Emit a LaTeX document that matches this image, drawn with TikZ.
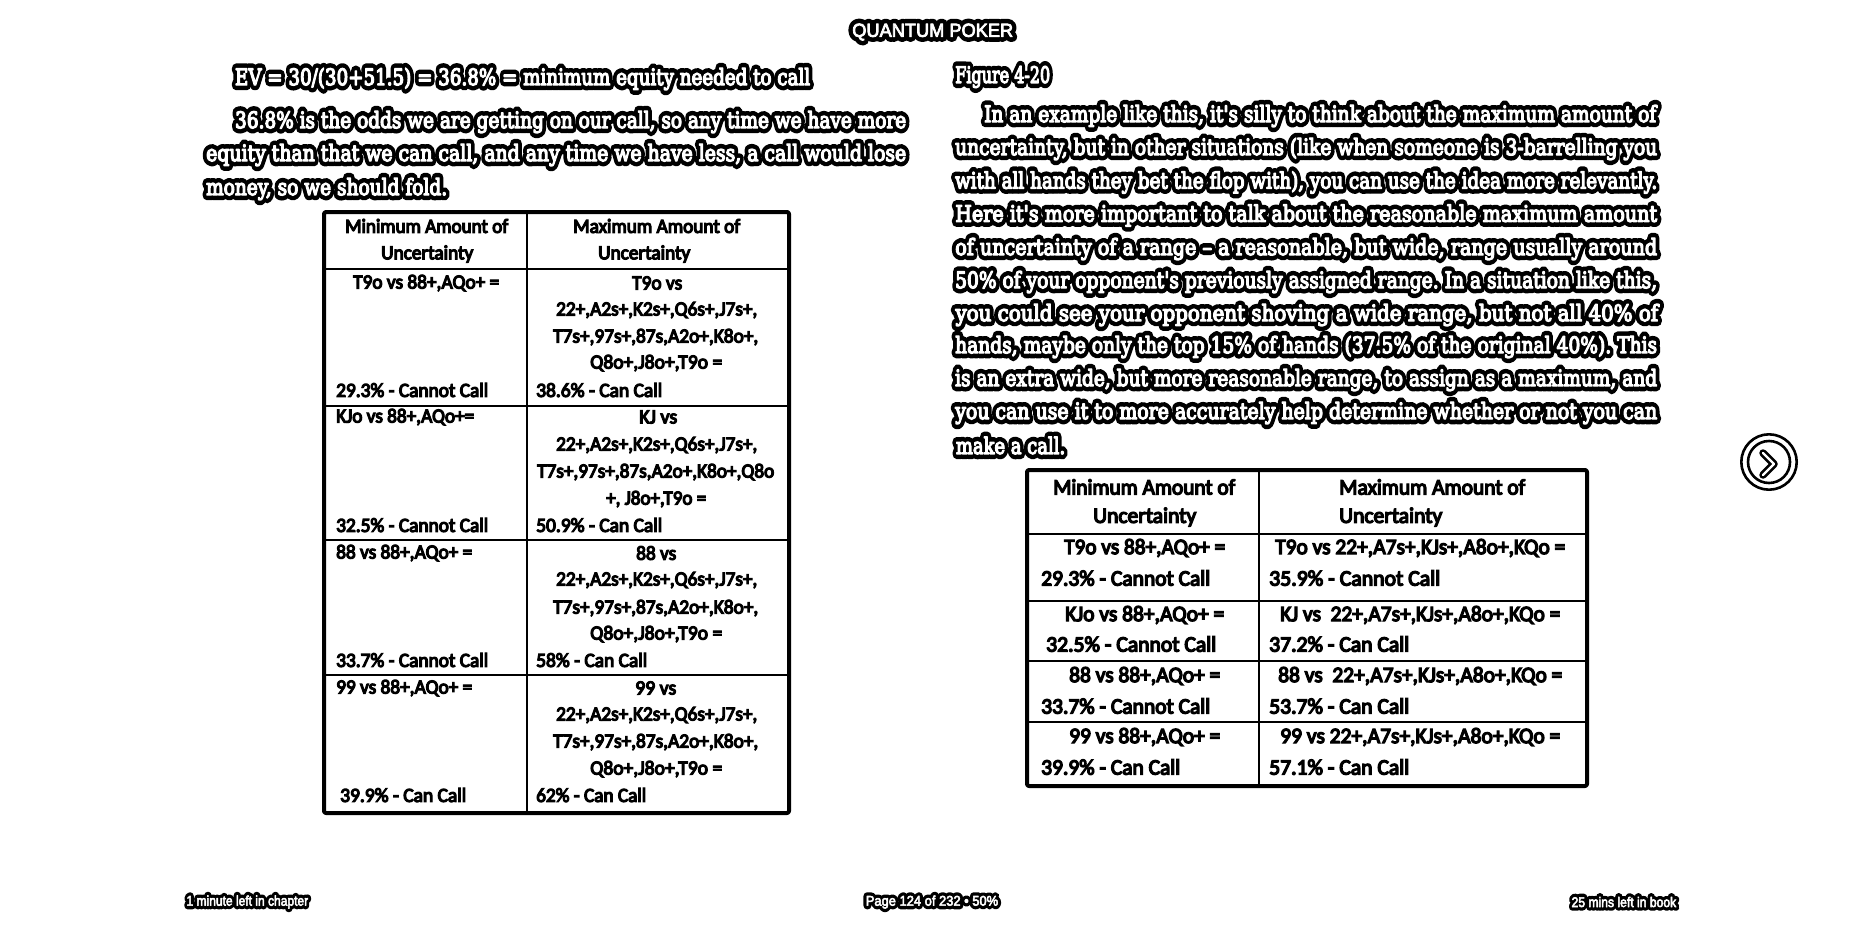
\documentclass[tikz,border=0pt]{standalone}
\usepackage{fontspec}
\usepackage{graphicx}
\setmainfont{Carlito}
\frenchspacing
\newfontfamily\bodyW[FakeBold=6]{DejaVu Serif}
\newfontfamily\bodyH[FakeBold=46]{DejaVu Serif}
\newfontfamily\sansW[FakeBold=4]{Liberation Sans}
\newfontfamily\sansH[FakeBold=52]{Liberation Sans}
\newfontfamily\cellF[FakeBold=6]{Carlito}
\newsavebox\fitbox
% #1 width, #2 font+text: scale the box horizontally to the given width
\newcommand\fitw[2]{\sbox\fitbox{#2}\pgfmathsetmacro\sxf{#1/\wd\fitbox*1pt}\scalebox{\sxf}[1]{\usebox\fitbox}}
\newcommand\halotxt[5]{% width, size, halo font, white font, text
  \fitw{#1}{\special{pdf:code 1 j 1 J}\fontsize{#2}{#2}\selectfont\makebox[0pt][l]{\color{black}#3 #5}\color{white}#4 #5}}
\tikzset{
  cellt/.style={inner sep=0pt,anchor=#1,font=\cellF},
  halol/.style={inner sep=0pt,anchor=west},
  outer/.style={line width=4pt,line join=round,draw=black,rounded corners=2pt},
  rowrule/.style={line width=2.2pt,draw=black},
}
% body text line: name, left x, baseline centre y, width, text
\newcommand\BL[5]{\node[halol] (#1) at (#2,#3+2) {\halotxt{#4}{22.5}{\bodyH}{\bodyW}{#5}};}
\newcommand\SL[6]{\node[halol] (#1) at (#2,#3) {\halotxt{#4}{#6}{\sansH}{\sansW}{#5}};}
% cell: name, anchor, x, y, width, text, size
\newcommand\CL[6]{\node[cellt=west] (#1) at (#2,#3) {\fitw{#4}{\fontsize{#6}{#6}\selectfont #5}};}
\begin{document}
\begin{tikzpicture}[x=1pt,y=-1pt]
\useasboundingbox (0,0) rectangle (1862,924);
\fill[white] (0,0) rectangle (1862,924);
% headers
\SL{title}{847}{32}{166}{QUANTUM POKER}{19}
\BL{ev}{229}{77}{581}{EV = 30/(30+51.5) = 36.8\% = minimum equity needed to call}
\BL{la}{229}{120}{677}{36.8\% is the odds we are getting on our call, so any time we have more}
\BL{lb}{200}{153}{706}{equity than that we can call, and any time we have less, a call would lose}
\BL{lc}{200}{187}{247}{money, so we should fold.}
\BL{fig}{950}{75}{100}{Figure 4-20}
\BL{ra}{978}{114}{678}{In an example like this, it's silly to think about the maximum amount of}
\BL{rb}{949}{147}{708}{uncertainty, but in other situations (like when someone is 3-barrelling you}
\BL{rc}{949}{180.5}{708}{with all hands they bet the flop with), you can use the idea more relevantly.}
\BL{rd}{949}{213.5}{708}{Here it's more important to talk about the reasonable maximum amount}
\BL{re}{949}{247}{708}{of uncertainty of a range – a reasonable, but wide, range usually around}
\BL{rf}{949}{280}{708}{50\% of your opponent's previously assigned range. In a situation like this,}
\BL{rg}{949}{313}{709}{you could see your opponent shoving a wide range, but not all 40\% of}
\BL{rh}{949}{345}{708}{hands, maybe only the top 15\% of hands (37.5\% of the original 40\%). This}
\BL{ri}{949}{378}{708}{is an extra wide, but more reasonable range, to assign as a maximum, and}
\BL{rj}{949}{411}{708}{you can use it to more accurately help determine whether or not you can}
\BL{rk}{950}{443.5}{115}{make a call.}
% left table
\draw[outer] (324,212) rectangle (789,813);
\draw[rowrule] (527,212) -- (527,813);
\foreach \yy in {269,406,540,675}{\draw[rowrule] (324,\yy) -- (789,\yy);}
\CL{a1}{345}{226}{163}{Minimum Amount of}{20}
\CL{a2}{381}{254}{92}{Uncertainty}{20}
\CL{a3}{573}{226}{167}{Maximum Amount of}{20}
\CL{a4}{598}{254}{92}{Uncertainty}{20}
\CL{b1}{353}{283}{146}{T9o vs 88+,AQo+ =}{20}
\CL{b2}{336}{390}{152}{29.3\% - Cannot Call}{20}
\CL{b3}{632}{283}{50}{T9o vs}{20}
\CL{b4}{556}{310}{201}{22+,A2s+,K2s+,Q6s+,J7s+,}{20}
\CL{b5}{553}{337}{205}{T7s+,97s+,87s,A2o+,K8o+,}{20}
\CL{b6}{590}{363}{132}{Q8o+,J8o+,T9o =}{20}
\CL{b7}{536}{390}{126}{38.6\% - Can Call}{20}
\CL{c1}{336}{417}{138}{KJo vs 88+,AQo+=}{20}
\CL{c2}{639}{417}{38}{KJ vs}{20}
\CL{c3}{556}{445}{201}{22+,A2s+,K2s+,Q6s+,J7s+,}{20}
\CL{c4}{537}{472}{237}{T7s+,97s+,87s,A2o+,K8o+,Q8o}{20}
\CL{c5}{606}{499}{100}{+, J8o+,T9o =}{20}
\CL{c6}{336}{525}{152}{32.5\% - Cannot Call}{20}
\CL{c7}{536}{525}{126}{50.9\% - Can Call}{20}
\CL{d1}{336}{553}{136}{88 vs 88+,AQo+ =}{20}
\CL{d2}{636}{553}{40}{88 vs}{20}
\CL{d3}{556}{580}{201}{22+,A2s+,K2s+,Q6s+,J7s+,}{20}
\CL{d4}{553}{608}{205}{T7s+,97s+,87s,A2o+,K8o+,}{20}
\CL{d5}{590}{634}{132}{Q8o+,J8o+,T9o =}{20}
\CL{d6}{336}{660}{152}{33.7\% - Cannot Call}{20}
\CL{d7}{536}{660}{111}{58\% - Can Call}{20}
\CL{e1}{336}{688}{136}{99 vs 88+,AQo+ =}{20}
\CL{e2}{635}{688}{41}{99 vs}{20}
\CL{e3}{556}{715}{201}{22+,A2s+,K2s+,Q6s+,J7s+,}{20}
\CL{e4}{553}{742}{205}{T7s+,97s+,87s,A2o+,K8o+,}{20}
\CL{e5}{590}{769}{132}{Q8o+,J8o+,T9o =}{20}
\CL{e6}{340}{795}{126}{39.9\% - Can Call}{20}
\CL{e7}{536}{795}{110}{62\% - Can Call}{20}
% right table
\draw[outer] (1027,470) rectangle (1587,786);
\draw[rowrule] (1259,470) -- (1259,786);
\foreach \yy in {534,601,661,722}{\draw[rowrule] (1027,\yy) -- (1587,\yy);}
\CL{f1}{1053}{487}{182}{Minimum Amount of}{22}
\CL{f2}{1093}{517}{103}{Uncertainty}{22}
\CL{f3}{1339}{487}{186}{Maximum Amount of}{22}
\CL{f4}{1339}{517}{103}{Uncertainty}{22}
\CL{g1}{1064}{548}{161}{T9o vs 88+,AQo+ =}{22}
\CL{g2}{1041}{578}{169}{29.3\% - Cannot Call}{22}
\CL{g3}{1275}{548}{290}{T9o vs 22+,A7s+,KJs+,A8o+,KQo =}{22}
\CL{g4}{1269}{578}{171}{35.9\% - Cannot Call}{22}
\CL{h1}{1065}{615}{159}{KJo vs 88+,AQo+ =}{22}
\CL{h2}{1046}{644}{170}{32.5\% - Cannot Call}{22}
\CL{h3}{1280}{615}{280}{KJ vs\ \ 22+,A7s+,KJs+,A8o+,KQo =}{22}
\CL{h4}{1269}{644}{140}{37.2\% - Can Call}{22}
\CL{i1}{1069}{676}{151}{88 vs 88+,AQo+ =}{22}
\CL{i2}{1041}{706}{169}{33.7\% - Cannot Call}{22}
\CL{i3}{1278}{676}{284}{88 vs\ \ 22+,A7s+,KJs+,A8o+,KQo =}{22}
\CL{i4}{1269}{706}{140}{53.7\% - Can Call}{22}
\CL{j1}{1069}{737}{151}{99 vs 88+,AQo+ =}{22}
\CL{j2}{1041}{767}{139}{39.9\% - Can Call}{22}
\CL{j3}{1280}{737}{280}{99 vs 22+,A7s+,KJs+,A8o+,KQo =}{22}
\CL{j4}{1269}{767}{140}{57.1\% - Can Call}{22}
% footer
\SL{fa}{183}{902}{125}{1 minute left in chapter}{14}
\SL{fb}{862}{902}{136}{Page 124 of 232 • 50\%}{14}
\SL{fc}{1568}{902}{108}{25 mins left in book}{14}
% next button
\draw[line width=2.6pt] (1769,462) circle (27.7);
\draw[line width=2.6pt] (1769,462) circle (21);
\draw[line width=7.5pt,line cap=round,line join=round] (1763,453) -- (1774,464) -- (1763,475);
\draw[line width=2.4pt,white,line cap=round,line join=round] (1763,453) -- (1774,464) -- (1763,475);
\end{tikzpicture}
\end{document}
